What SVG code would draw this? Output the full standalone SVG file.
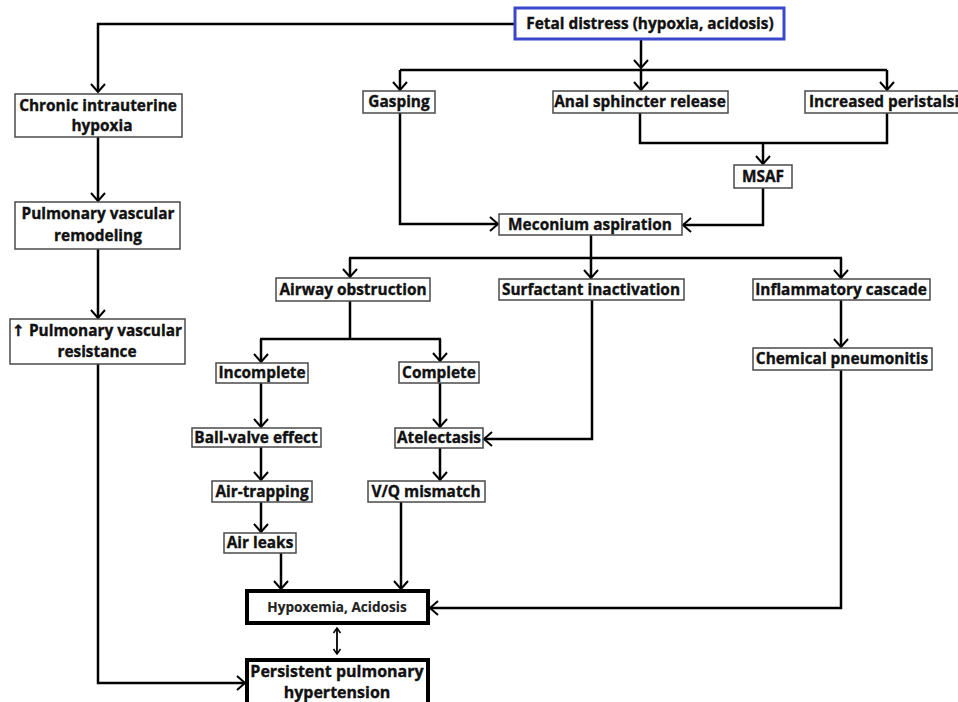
<svg xmlns="http://www.w3.org/2000/svg" width="958" height="702" viewBox="0 0 958 702">
<defs>
<style>
.box{fill:#fff;stroke:#4a4a4a;stroke-width:1.5}
.thick{fill:#fff;stroke:#000;stroke-width:4}
.blue{fill:#fff;stroke:#3b47c9;stroke-width:3}
.t{font-family:"Open Sans","Noto Sans","DejaVu Sans",sans-serif;font-weight:bold;font-size:15.4px;fill:#111;stroke:#111;stroke-width:0.35;text-anchor:middle}
.t2{font-family:"Open Sans","Noto Sans","DejaVu Sans",sans-serif;font-weight:bold;font-size:13.6px;fill:#222;stroke:#222;stroke-width:0.15;text-anchor:middle}
.c{fill:none;stroke:#000;stroke-width:2.5}
.c2{fill:none;stroke:#000;stroke-width:1.8}
</style>
<marker id="ah" markerUnits="userSpaceOnUse" markerWidth="12" markerHeight="18" viewBox="0 0 12 18" refX="10" refY="9" orient="auto">
<path d="M2,2 L10,9 L2,16" fill="none" stroke="#000" stroke-width="2"/>
</marker>
<marker id="sh" markerUnits="userSpaceOnUse" markerWidth="8" markerHeight="10" viewBox="0 0 8 10" refX="7" refY="5" orient="auto-start-reverse">
<path d="M2,1.5 L7,5 L2,8.5" fill="none" stroke="#000" stroke-width="1.5"/>
</marker>
</defs>
<rect width="958" height="702" fill="#fff"/>
<g id="connectors">
<polyline class="c" points="515,24 98,24 98,92" marker-end="url(#ah)"/>
<line class="c" x1="641" y1="39" x2="641" y2="68" marker-end="url(#ah)"/>
<line class="c" x1="400" y1="70" x2="887" y2="70"/>
<line class="c" x1="400" y1="70" x2="400" y2="90" marker-end="url(#ah)"/>
<line class="c" x1="641" y1="70" x2="641" y2="90" marker-end="url(#ah)"/>
<line class="c" x1="887" y1="70" x2="887" y2="90" marker-end="url(#ah)"/>
<line class="c" x1="98" y1="137" x2="98" y2="201" marker-end="url(#ah)"/>
<line class="c" x1="98" y1="249" x2="98" y2="318" marker-end="url(#ah)"/>
<polyline class="c" points="98,364 98,683 245,683" marker-end="url(#ah)"/>
<polyline class="c" points="400,113 400,224 498,224" marker-end="url(#ah)"/>
<polyline class="c" points="640,113 640,143 887,143 887,113"/>
<line class="c" x1="763" y1="143" x2="763" y2="164" marker-end="url(#ah)"/>
<polyline class="c" points="763,188 763,225 683,225" marker-end="url(#ah)"/>
<line class="c" x1="591" y1="235" x2="591" y2="258"/>
<line class="c" x1="349" y1="258" x2="842" y2="258"/>
<line class="c" x1="350" y1="258" x2="350" y2="277" marker-end="url(#ah)"/>
<line class="c" x1="591" y1="258" x2="591" y2="278" marker-end="url(#ah)"/>
<line class="c" x1="841" y1="258" x2="841" y2="278" marker-end="url(#ah)"/>
<line class="c" x1="350" y1="301" x2="350" y2="339"/>
<line class="c" x1="260" y1="339" x2="441" y2="339"/>
<line class="c" x1="261" y1="339" x2="261" y2="362" marker-end="url(#ah)"/>
<line class="c" x1="440" y1="339" x2="440" y2="361" marker-end="url(#ah)"/>
<line class="c" x1="261" y1="383" x2="261" y2="427" marker-end="url(#ah)"/>
<line class="c" x1="440" y1="383" x2="440" y2="427" marker-end="url(#ah)"/>
<polyline class="c" points="592,300 592,439 484,439" marker-end="url(#ah)"/>
<line class="c" x1="841" y1="300" x2="841" y2="347" marker-end="url(#ah)"/>
<polyline class="c" points="841,370 841,608 430,608" marker-end="url(#ah)"/>
<line class="c" x1="261" y1="447" x2="261" y2="480" marker-end="url(#ah)"/>
<line class="c" x1="440" y1="448" x2="440" y2="480" marker-end="url(#ah)"/>
<line class="c" x1="261" y1="502" x2="261" y2="532" marker-end="url(#ah)"/>
<line class="c" x1="281" y1="553" x2="281" y2="589" marker-end="url(#ah)"/>
<line class="c" x1="401" y1="502" x2="401" y2="589" marker-end="url(#ah)"/>
<line class="c2" x1="337" y1="628" x2="337" y2="654" marker-start="url(#sh)" marker-end="url(#sh)"/>
</g>
<g id="fetal"><rect class="blue" x="515" y="8" width="269" height="31"/><text class="t" x="650" y="29">Fetal distress (hypoxia, acidosis)</text></g>
<g id="chronic"><rect class="box" x="15" y="94" width="167" height="43"/><text class="t" x="98" y="111">Chronic intrauterine</text><text class="t" x="102" y="131">hypoxia</text></g>
<g id="remodel"><rect class="box" x="15" y="202" width="165" height="47"/><text class="t" x="98" y="219">Pulmonary vascular</text><text class="t" x="98" y="241">remodeling</text></g>
<g id="pvr"><rect class="box" x="10" y="319" width="175" height="45"/><text class="t" x="97" y="336">↑ Pulmonary vascular</text><text class="t" x="97" y="357">resistance</text></g>
<g id="gasping"><rect class="box" x="363" y="91" width="72" height="22"/><text class="t" x="399" y="107">Gasping</text></g>
<g id="anal"><rect class="box" x="553" y="91" width="175" height="22"/><text class="t" x="640" y="107">Anal sphincter release</text></g>
<g id="peristalsis"><rect class="box" x="805" y="91" width="165" height="22"/><text class="t" x="809" y="107" style="text-anchor:start">Increased peristalsis</text></g>
<g id="msaf"><rect class="box" x="734" y="165" width="58" height="23"/><text class="t" x="763" y="182">MSAF</text></g>
<g id="meconium"><rect class="box" x="499" y="214" width="183" height="21"/><text class="t" x="590" y="230">Meconium aspiration</text></g>
<g id="airway"><rect class="box" x="276" y="278" width="154" height="23"/><text class="t" x="353" y="295">Airway obstruction</text></g>
<g id="surfactant"><rect class="box" x="499" y="279" width="185" height="21"/><text class="t" x="591" y="295">Surfactant inactivation</text></g>
<g id="inflammatory"><rect class="box" x="753" y="279" width="177" height="21"/><text class="t" x="841" y="295">Inflammatory cascade</text></g>
<g id="chemical"><rect class="box" x="753" y="348" width="179" height="22"/><text class="t" x="842" y="364">Chemical pneumonitis</text></g>
<g id="incomplete"><rect class="box" x="216" y="363" width="92" height="20"/><text class="t" x="262" y="378">Incomplete</text></g>
<g id="complete"><rect class="box" x="399" y="362" width="80" height="21"/><text class="t" x="439" y="378">Complete</text></g>
<g id="ballvalve"><rect class="box" x="192" y="428" width="129" height="19"/><text class="t" x="256" y="443">Ball-valve effect</text></g>
<g id="atelectasis"><rect class="box" x="395" y="428" width="88" height="20"/><text class="t" x="439" y="443">Atelectasis</text></g>
<g id="airtrapping"><rect class="box" x="212" y="481" width="100" height="21"/><text class="t" x="262" y="497">Air-trapping</text></g>
<g id="vq"><rect class="box" x="368" y="481" width="117" height="21"/><text class="t" x="426" y="497">V/Q mismatch</text></g>
<g id="airleaks"><rect class="box" x="224" y="533" width="72" height="20"/><text class="t" x="260" y="548">Air leaks</text></g>
<g id="hypoxemia"><rect class="thick" x="247" y="591" width="181" height="32"/><text class="t2" x="337" y="612">Hypoxemia, Acidosis</text></g>
<g id="pph"><rect class="thick" x="247" y="660" width="181" height="60"/><text class="t" x="337" y="677" style="font-size:16px">Persistent pulmonary</text><text class="t" x="337" y="698" style="font-size:16px">hypertension</text></g>
</svg>
